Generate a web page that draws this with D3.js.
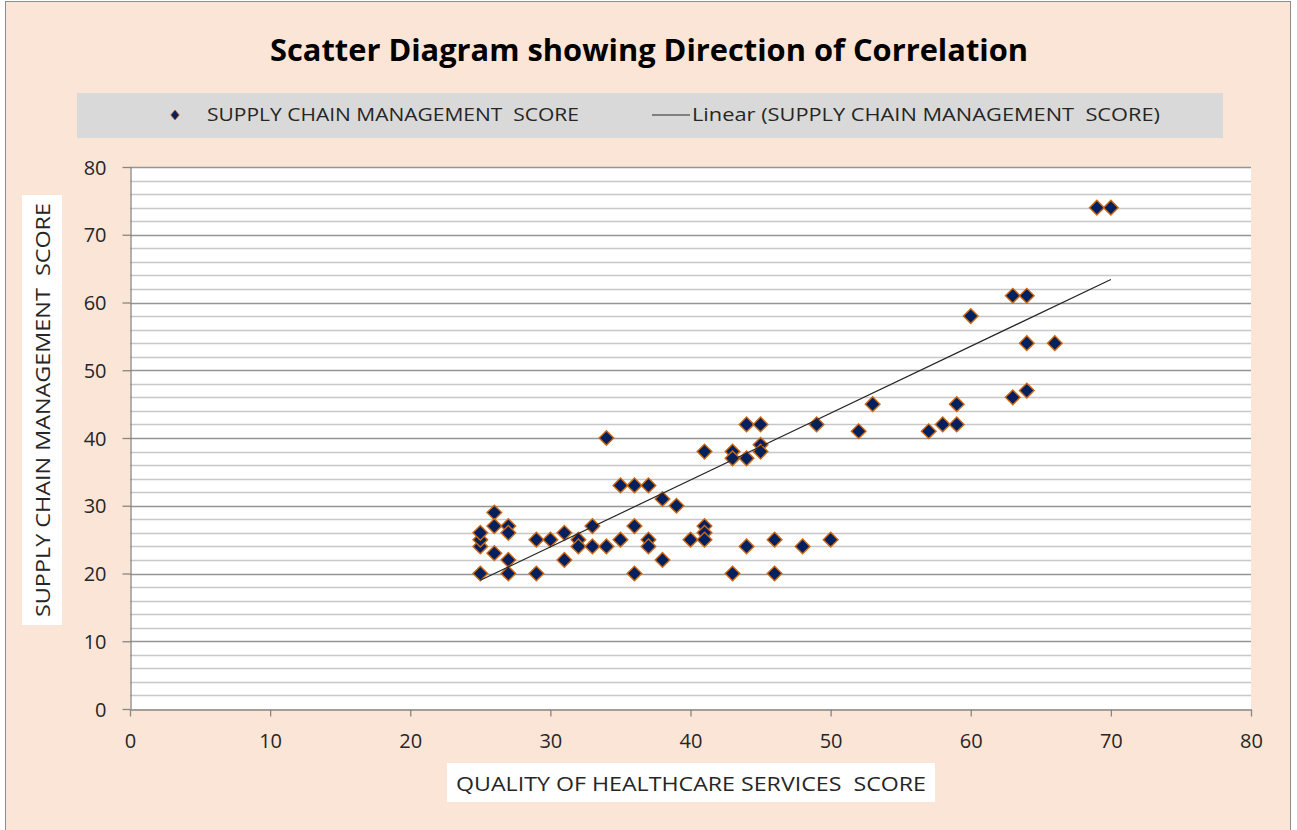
<!DOCTYPE html>
<html>
<head>
<meta charset="utf-8">
<script src="https://cdn.jsdelivr.net/npm/d3@7"></script>
<style>
  html, body { margin: 0; padding: 0; background: #fff; }
  svg { display: block; font-family: 'Open Sans', 'DejaVu Sans', sans-serif; }
  text { white-space: pre; }
</style>
</head>
<body>
<svg width="1297" height="830"></svg>
<script>
// QUALITY OF HEALTHCARE SERVICES SCORE (x) / SUPPLY CHAIN MANAGEMENT SCORE (y)
var quality = [25, 25, 25, 25, 26, 26, 26, 27, 27, 27, 27, 29, 29, 30, 31, 31, 32, 32, 33, 33,
               34, 34, 35, 35, 36, 36, 36, 37, 37, 37, 38, 38, 39, 40, 41, 41, 41, 41, 43, 43,
               43, 44, 44, 44, 45, 45, 45, 46, 46, 48, 49, 50, 52, 53, 57, 58, 59, 59, 60, 63,
               63, 64, 64, 64, 66, 69, 70]
var supply  = [20, 24, 25, 26, 29, 27, 23, 27, 26, 22, 20, 25, 20, 25, 26, 22, 25, 24, 27, 24,
               40, 24, 33, 25, 33, 27, 20, 33, 25, 24, 31, 22, 30, 25, 38, 27, 26, 25, 38, 37,
               20, 42, 37, 24, 42, 39, 38, 25, 20, 24, 42, 25, 41, 45, 41, 42, 45, 42, 58, 61,
               46, 61, 54, 47, 54, 74, 74]
// linear trend line end points
var trendX = [25, 70]
var trendY = [19.0, 63.4]
var xTicks = [0, 10, 20, 30, 40, 50, 60, 70, 80]
var yTicks = [0, 10, 20, 30, 40, 50, 60, 70, 80]
var seriesName = 'SUPPLY CHAIN MANAGEMENT  SCORE'
var title = 'Scatter Diagram showing Direction of Correlation'
var xTitle = 'QUALITY OF HEALTHCARE SERVICES  SCORE'

var svg = d3.select('svg')
  , plot = { left: 130, right: 1251, top: 167, bottom: 709 }

var x = d3.scaleLinear().domain([0, 80]).range([plot.left, plot.right])
var y = d3.scaleLinear().domain([0, 80]).range([plot.bottom, plot.top])

var points = quality.map(function (q, i) { return { x: q, y: supply[i] } })

// chart area
svg.append('rect').attr('x', 5.5).attr('y', 1.5).attr('width', 1285).attr('height', 840)
  .attr('fill', '#FBE5D6').attr('stroke', '#8C8C8C')

svg.append('text').attr('x', 649).attr('y', 61).attr('text-anchor', 'middle')
  .attr('font-family', "'Liberation Sans Narrow', 'Open Sans', sans-serif")
  .attr('font-weight', 'bold').attr('font-size', 31).attr('fill', '#000')
  .attr('textLength', 758).attr('lengthAdjust', 'spacingAndGlyphs')
  .text(title)

// legend
svg.append('rect').attr('x', 77).attr('y', 93).attr('width', 1146).attr('height', 45).attr('fill', '#D9D9D9')
svg.append('path').attr('d', d3.symbol(d3.symbolSquare, 50)())
  .attr('transform', 'translate(175,115) scale(0.85,1) rotate(45)')
  .attr('fill', '#002060').attr('stroke', '#C55A11').attr('stroke-width', 0.8)
svg.append('text').attr('x', 207).attr('y', 121).attr('font-size', 18).attr('fill', '#262626')
  .attr('textLength', 372).attr('lengthAdjust', 'spacingAndGlyphs').text(seriesName)
svg.append('line').attr('x1', 652).attr('x2', 690).attr('y1', 115).attr('y2', 115)
  .attr('stroke', '#262626').attr('stroke-width', 1)
svg.append('text').attr('x', 692).attr('y', 121).attr('font-size', 18).attr('fill', '#262626')
  .attr('textLength', 468).attr('lengthAdjust', 'spacingAndGlyphs').text('Linear (' + seriesName + ')')

// plot area
svg.append('rect').attr('x', plot.left).attr('y', plot.top)
  .attr('width', plot.right - plot.left).attr('height', plot.bottom - plot.top).attr('fill', '#fff')

var minor = d3.range(2, 80, 2).filter(function (v) { return v % 10 })
svg.append('g').selectAll('line').data(minor).enter().append('line')
  .attr('x1', plot.left).attr('x2', plot.right)
  .attr('y1', function (d) { return Math.round(y(d)) + 0.5 })
  .attr('y2', function (d) { return Math.round(y(d)) + 0.5 })
  .attr('stroke', '#C8C8C8').attr('stroke-width', 1.6)
svg.append('g').selectAll('line').data(yTicks.slice(1)).enter().append('line')
  .attr('x1', plot.left).attr('x2', plot.right)
  .attr('y1', function (d) { return Math.round(y(d)) + 0.5 })
  .attr('y2', function (d) { return Math.round(y(d)) + 0.5 })
  .attr('stroke', '#959595').attr('stroke-width', 1.6)

// axes
var xAxis = svg.append('g').attr('transform', 'translate(0,' + (plot.bottom + 0.5) + ')')
  .call(d3.axisBottom(x).tickValues(xTicks).tickSize(7).tickPadding(17).tickSizeOuter(0))
var yAxis = svg.append('g').attr('transform', 'translate(' + (plot.left + 0.5) + ',0)')
  .call(d3.axisLeft(y).tickValues(yTicks).tickSize(8).tickPadding(16).tickSizeOuter(0))
;[xAxis, yAxis].forEach(function (a) {
  a.selectAll('path, line').attr('stroke', '#868686').attr('stroke-width', 1.3)
  a.selectAll('text').attr('font-size', 20).attr('fill', '#262626')
    .attr('font-family', "'Open Sans', sans-serif")
})
yAxis.selectAll('text').attr('dy', '0.35em')

// axis titles
svg.append('rect').attr('x', 447).attr('y', 763).attr('width', 488).attr('height', 39).attr('fill', '#fff')
svg.append('text').attr('x', 691).attr('y', 791).attr('text-anchor', 'middle')
  .attr('font-size', 20).attr('fill', '#262626')
  .attr('textLength', 470).attr('lengthAdjust', 'spacingAndGlyphs').text(xTitle)
svg.append('rect').attr('x', 22).attr('y', 195).attr('width', 40).attr('height', 430).attr('fill', '#fff')
svg.append('text').attr('transform', 'translate(50,410) rotate(-90)').attr('text-anchor', 'middle')
  .attr('font-size', 20).attr('fill', '#262626')
  .attr('textLength', 414).attr('lengthAdjust', 'spacingAndGlyphs').text(seriesName)

// markers
svg.append('g').selectAll('path').data(points).enter().append('path')
  .attr('d', d3.symbol(d3.symbolSquare, 108)())
  .attr('transform', function (d) { return 'translate(' + x(d.x) + ',' + y(d.y) + ') rotate(45)' })
  .attr('fill', '#002060').attr('stroke', '#D0680F').attr('stroke-width', 1.4)

// linear trend
svg.append('line')
  .attr('x1', x(trendX[0])).attr('y1', y(trendY[0]))
  .attr('x2', x(trendX[1])).attr('y2', y(trendY[1]))
  .attr('stroke', '#262626').attr('stroke-width', 1.2)
</script>
</body>
</html>
